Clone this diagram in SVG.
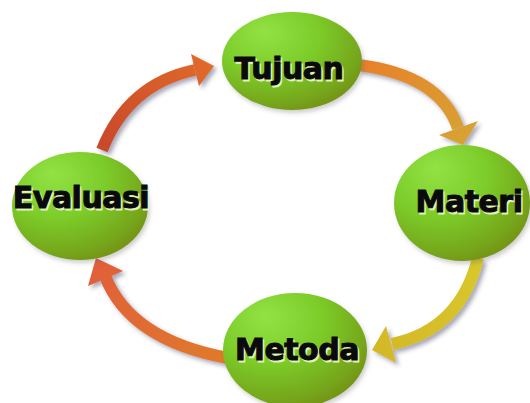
<svg xmlns="http://www.w3.org/2000/svg" width="530" height="403" viewBox="0 0 530 403">
<defs>
  <radialGradient id="ball" cx="0.35" cy="0.3" r="0.8" fx="0.3" fy="0.2">
    <stop offset="0" stop-color="#92e244"/>
    <stop offset="0.45" stop-color="#7ccd2a"/>
    <stop offset="0.8" stop-color="#76a81c"/>
    <stop offset="1" stop-color="#748c14"/>
  </radialGradient>
  <linearGradient id="g1" gradientUnits="userSpaceOnUse" x1="102" y1="150" x2="212" y2="66">
    <stop offset="0" stop-color="#c9482a"/>
    <stop offset="1" stop-color="#e06a2c"/>
  </linearGradient>
  <linearGradient id="g2" gradientUnits="userSpaceOnUse" x1="358" y1="65" x2="463" y2="143">
    <stop offset="0" stop-color="#e8802a"/>
    <stop offset="1" stop-color="#d8a232"/>
  </linearGradient>
  <linearGradient id="g3" gradientUnits="userSpaceOnUse" x1="478" y1="258" x2="374" y2="350">
    <stop offset="0" stop-color="#d8c82a"/>
    <stop offset="1" stop-color="#d4b828"/>
  </linearGradient>
  <linearGradient id="g4" gradientUnits="userSpaceOnUse" x1="228" y1="358" x2="99" y2="261">
    <stop offset="0" stop-color="#e07a2a"/>
    <stop offset="1" stop-color="#e0603a"/>
  </linearGradient>
  <filter id="sh" x="-20%" y="-20%" width="150%" height="150%">
    <feDropShadow dx="3" dy="3" stdDeviation="2" flood-color="#404060" flood-opacity="0.45"/>
  </filter>
  <filter id="bsh" x="-10%" y="-10%" width="125%" height="125%">
    <feDropShadow dx="2" dy="3" stdDeviation="2" flood-color="#606060" flood-opacity="0.3"/>
  </filter>
</defs>
<style>
  .shaft { fill: none; stroke-width: 12; stroke-linecap: butt; }
  .ball { fill: url(#ball); filter: url(#bsh); }
  .lbl { font-family: "DejaVu Sans", Verdana, sans-serif; font-weight: bold; font-size: 30px; text-anchor: middle; letter-spacing: -0.5px; }
  .hl { fill: #e4f2b8; stroke: #e4f2b8; stroke-width: 1; }
  .tx { fill: #0a0a0a; stroke: #0a0a0a; stroke-width: 1; }
</style>
<g id="connectors">
  <g filter="url(#sh)">
    <path class="shaft" stroke="url(#g1)" d="M102,150 Q128,84 195,70"/>
    <polygon fill="url(#g1)" points="214,66 199,86 191,54"/>
  </g>
  <g filter="url(#sh)">
    <path class="shaft" stroke="url(#g2)" d="M358,65 Q440,75 458,128"/>
    <polygon fill="url(#g2)" points="463,145 478,121 439,135"/>
  </g>
  <g filter="url(#sh)">
    <path class="shaft" stroke="url(#g3)" d="M478,258 Q460,330 392,344"/>
    <polygon fill="url(#g3)" points="372,350 396,363 386,326"/>
  </g>
  <g filter="url(#sh)">
    <path class="shaft" stroke="url(#g4)" d="M228,358 Q130,340 105,276"/>
    <polygon fill="url(#g4)" points="96,258 123,271 88,286"/>
  </g>
</g>
<g id="tujuan">
  <ellipse class="ball" cx="292" cy="61" rx="70" ry="49"/>
  <text class="lbl hl" x="290.5" y="80.5">Tujuan</text>
  <text class="lbl tx" x="289" y="79">Tujuan</text>
</g>
<g id="materi">
  <ellipse class="ball" cx="462" cy="203" rx="68" ry="58"/>
  <text class="lbl hl" x="470.5" y="213.5">Materi</text>
  <text class="lbl tx" x="469" y="212">Materi</text>
</g>
<g id="metoda">
  <ellipse class="ball" cx="295" cy="350" rx="72" ry="57"/>
  <text class="lbl hl" x="298.5" y="361.5">Metoda</text>
  <text class="lbl tx" x="297" y="360">Metoda</text>
</g>
<g id="evaluasi">
  <ellipse class="ball" cx="80" cy="206" rx="68" ry="54"/>
  <text class="lbl hl" x="82.5" y="209.5">Evaluasi</text>
  <text class="lbl tx" x="81" y="208">Evaluasi</text>
</g>
</svg>
